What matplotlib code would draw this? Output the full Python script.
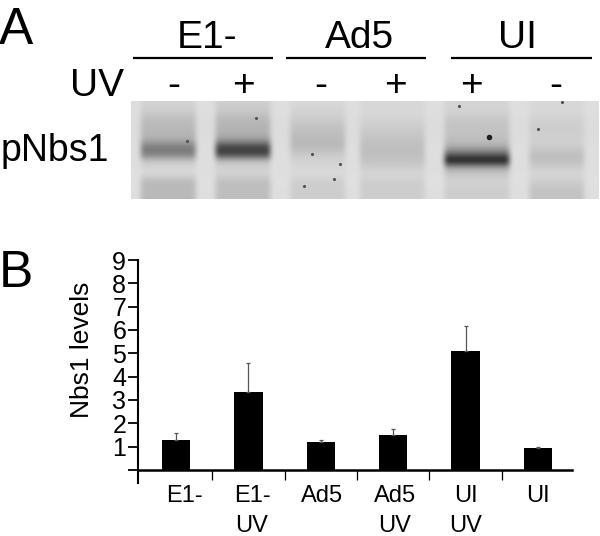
import numpy as np
import matplotlib
matplotlib.use("Agg")
import matplotlib.pyplot as plt

plt.rcParams['font.family'] = ['Liberation Sans', 'DejaVu Sans']

# ---- Panel B data
categories = ["E1-", "E1-\nUV", "Ad5", "Ad5\nUV", "UI\nUV", "UI"]
levels = [1.28, 3.35, 1.20, 1.52, 5.08, 0.95]
errors = [0.30, 1.22, 0.08, 0.24, 1.07, 0.03]
y_ticks = [0, 1, 2, 3, 4, 5, 6, 7, 8, 9]
y_tick_labels = ["", "1", "2", "3", "4", "5", "6", "7", "8", "9"]
label_shift = [0.11, 0.05, 0.02, 0.02, 0.0, 0.0]

# ---- Panel A data (grey levels read from the blot, rows top to bottom)
groups = ["E1-", "Ad5", "UI"]
uv_marks = ["-", "+", "-", "+", "+", "-"]
lane_gap = [222, 222, 220, 220, 220, 220, 222, 222, 222, 222, 222, 224, 222, 222]
lane_e1 = [210, 205, 190, 185, 183, 175, 125, 120, 195, 215, 215, 185, 185, 185]
lane_e1uv = [205, 200, 185, 180, 178, 160, 70, 55, 190, 210, 210, 190, 190, 190]
lane_ad5 = [215, 210, 205, 195, 190, 185, 185, 200, 210, 215, 218, 205, 205, 205]
lane_ad5uv = [215, 215, 212, 205, 200, 195, 190, 190, 195, 205, 215, 205, 205, 205]
lane_uiuv = [212, 210, 200, 195, 195, 190, 175, 110, 10, 170, 200, 210, 205, 205]
lane_ui = [215, 215, 210, 205, 205, 208, 205, 190, 190, 205, 215, 205, 195, 195]
lane_order = [lane_gap, lane_e1, lane_gap, lane_e1uv, lane_gap, lane_ad5, lane_gap,
              lane_ad5uv, lane_gap, lane_uiuv, lane_gap, lane_ui, lane_gap]
lane_widths = [2, 11, 4, 11, 4, 11, 3, 13, 4, 13, 4, 11, 3]
spot_x = [56, 125, 181, 209, 203, 173, 328, 407, 431]
spot_y = [40, 17, 53, 63, 78, 85, 5, 28, 1]
big_spot_x = [358]
big_spot_y = [36]

fig = plt.figure(figsize=(6.0, 5.36), dpi=100)
W, H = 600.0, 536.0


def box(x0, y0, x1, y1):
    return [x0 / W, 1 - y1 / H, (x1 - x0) / W, (y1 - y0) / H]


# ---- overlay for panel text
ov = fig.add_axes([0, 0, 1, 1])
ov.set_xlim(0, W)
ov.set_ylim(H, 0)
ov.axis("off")
ov.text(-1, 44, "A", fontsize=37, ha="left", va="baseline")
ov.text(-1, 287, "B", fontsize=37, ha="left", va="baseline")
for name, cx, (a, b) in zip(groups, [207, 359, 517], [(133, 273), (286, 426), (451, 592)]):
    ov.text(cx, 48, name, fontsize=28, ha="center", va="baseline")
    ov.plot([a, b], [58, 58], color="black", lw=1.6, solid_capstyle="butt")
ov.text(70, 96, "UV", fontsize=28, ha="left", va="baseline")
for mark, cx in zip(uv_marks, [174, 243, 321, 395, 471, 556]):
    ov.text(cx, 96, mark, fontsize=28, ha="center", va="baseline")
ov.text(1, 161, "pNbs1", fontsize=27, ha="left", va="baseline")

# ---- blot
bl = fig.add_axes(box(131, 101, 599, 199))
blot = np.repeat(np.array(lane_order, dtype=float).T, lane_widths, axis=1)
bl.imshow(blot, cmap="gray", vmin=0, vmax=255, aspect="auto",
          interpolation="bicubic", extent=[0, 468, 98, 0])
bl.scatter(spot_x, spot_y, s=5, color="#505050", linewidths=0)
bl.scatter(big_spot_x, big_spot_y, s=16, color="#202020", linewidths=0)
bl.set_xlim(0, 468)
bl.set_ylim(98, 0)
bl.axis("off")

# ---- bar chart
ax = fig.add_axes(box(138, 260, 572, 483))
x = np.arange(len(levels))
ax.bar(x, levels, width=0.39, color="black")
ax.errorbar(x, levels, yerr=[np.zeros(len(errors)), errors], fmt="none",
            ecolor="#555555", elinewidth=0.9, capsize=1.6, capthick=0.9)
ax.set_xlim(-0.525, 5.47)
ax.set_ylim(-13 / 23.33, 9)
ax.spines["top"].set_visible(False)
ax.spines["right"].set_visible(False)
ax.spines["bottom"].set_position(("data", 0))
ax.spines["left"].set_linewidth(1.5)
ax.spines["bottom"].set_linewidth(1.8)
ax.set_yticks(y_ticks, y_tick_labels, fontsize=18)
ax.tick_params(axis="y", length=7.5, width=1.3, pad=1)
ax.set_xticks(x[:-1] + 0.5)
ax.tick_params(axis="x", which="major", length=7, width=0.9, labelbottom=False)
ax.set_xticks(x + np.array(label_shift), categories, minor=True, fontsize=17)
ax.tick_params(axis="x", which="minor", length=0, pad=10.5, labelbottom=True)
for t in ax.get_xticklabels(minor=True):
    t.set_linespacing(1.5)
ax.set_ylabel("Nbs1 levels", fontsize=19)
ax.yaxis.set_label_coords((94 - 138) / 434, (483 - 350) / 223)

fig.savefig("out.png", dpi=100)
